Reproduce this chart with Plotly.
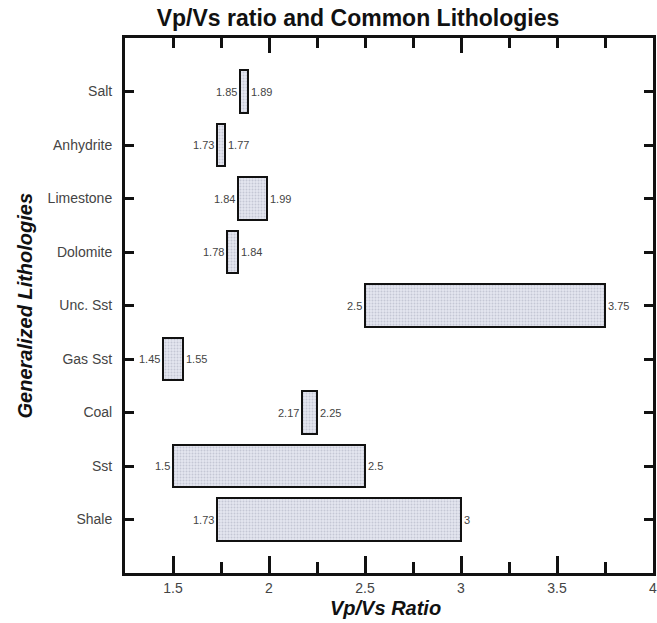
import plotly.graph_objects as go

# Vp/Vs ranges for common lithologies (bottom to top on the chart)
lithologies = ["Shale", "Sst", "Coal", "Gas Sst", "Unc. Sst",
               "Dolomite", "Limestone", "Anhydrite", "Salt"]
vpvs_low = [1.73, 1.5, 2.17, 1.45, 2.5, 1.78, 1.84, 1.73, 1.85]
vpvs_high = [3.0, 2.5, 2.25, 1.55, 3.75, 1.84, 1.99, 1.77, 1.89]

x_tick_vals = [1.5, 2, 2.5, 3, 3.5, 4]
x_tick_text = ["1.5", "2", "2.5", "3", "3.5", "4"]

FONT = "Liberation Sans, Arial, sans-serif"
LABEL_COLOR = "#444444"


def fmt(v):
    return f"{v:g}"


widths = [h - l for l, h in zip(vpvs_low, vpvs_high)]

fig = go.Figure()
fig.add_trace(go.Bar(
    orientation="h",
    y=lithologies,
    x=widths,
    base=vpvs_low,
    width=0.8,
    marker=dict(
        color="#e4e6ef",
        line=dict(color="#111111", width=2),
        pattern=dict(shape=".", fgcolor="#a4a7bb", bgcolor="#e4e6ef",
                     size=3, solidity=0.35),
    ),
    hoverinfo="skip",
    showlegend=False,
))

# invisible trace so the top (mirror) axis gets drawn
fig.add_trace(go.Scatter(
    x=vpvs_low, y=lithologies, xaxis="x2", mode="markers",
    marker=dict(opacity=0), hoverinfo="skip", showlegend=False,
))

# value labels at both ends of each range
annotations = []
for cat, lo, hi in zip(lithologies, vpvs_low, vpvs_high):
    annotations.append(dict(
        x=lo, y=cat, xref="x", yref="y", text=fmt(lo), showarrow=False,
        xanchor="right", xshift=-1,
        font=dict(family=FONT, size=11, color=LABEL_COLOR)))
    annotations.append(dict(
        x=hi, y=cat, xref="x", yref="y", text=fmt(hi), showarrow=False,
        xanchor="left", xshift=1,
        font=dict(family=FONT, size=11, color=LABEL_COLOR)))

# axis titles
annotations.append(dict(
    x=0.5, y=0, xref="paper", yref="paper", yshift=-35, xshift=-4,
    text="<b><i>Vp/Vs Ratio</i></b>", showarrow=False,
    xanchor="center", yanchor="middle",
    font=dict(family=FONT, size=20, color="#111111")))
annotations.append(dict(
    x=0, y=0.5, xref="paper", yref="paper", xshift=-101,
    text="<b><i>Generalized Lithologies</i></b>", showarrow=False,
    textangle=-90, xanchor="center", yanchor="middle",
    font=dict(family=FONT, size=20, color="#111111")))

fig.update_layout(
    width=657, height=623,
    margin=dict(l=125, r=0, t=38, b=50),
    paper_bgcolor="white", plot_bgcolor="white",
    bargap=0,
    title=dict(
        text="<b>Vp/Vs ratio and Common Lithologies</b>",
        x=358 / 657, xanchor="center", xref="container",
        y=1 - 18 / 623, yanchor="middle", yref="container",
        font=dict(family=FONT, size=23, color="#111111")),
    xaxis=dict(
        range=[1.25, 4], showgrid=False, zeroline=False,
        showline=True, linecolor="#111111", linewidth=3,
        ticks="inside", ticklen=17, tickwidth=3, tickcolor="#111111",
        tickvals=x_tick_vals, ticktext=x_tick_text,
        ticklabelstandoff=0, ticklabeloverflow="allow",
        tickfont=dict(family=FONT, size=14, color=LABEL_COLOR),
        minor=dict(dtick=0.25, tick0=0, ticks="inside", ticklen=11,
                   tickwidth=2.5, tickcolor="#111111", showgrid=False),
    ),
    xaxis2=dict(
        range=[1.25, 4], overlaying="x", side="top", showgrid=False,
        zeroline=False, showline=True, linecolor="#111111", linewidth=3,
        ticks="inside", ticklen=15, tickwidth=3, tickcolor="#111111",
        dtick=1, tick0=0, showticklabels=False,
        minor=dict(dtick=0.25, tick0=0, ticks="inside", ticklen=10,
                   tickwidth=2.5, tickcolor="#111111", showgrid=False),
    ),
    yaxis=dict(
        type="category", categoryorder="array", categoryarray=lithologies,
        range=[-1, 9], showgrid=False, zeroline=False,
        showline=True, linecolor="#111111", linewidth=3, mirror="ticks",
        ticks="inside", ticklen=9, tickwidth=3, tickcolor="#111111",
        ticklabelstandoff=7,
        tickfont=dict(family=FONT, size=14, color=LABEL_COLOR),
    ),
    annotations=annotations,
)

fig.write_html("out.html")
